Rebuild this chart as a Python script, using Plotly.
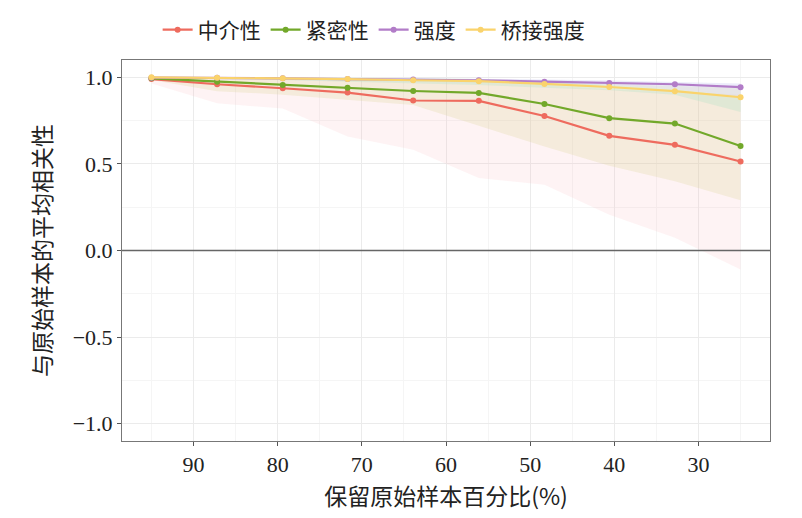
import plotly.graph_objects as go

# percent of original sample kept
keep_pct = [95, 87.2, 79.4, 71.7, 63.9, 56.1, 48.3, 40.6, 32.8, 25]

series_names = ["中介性", "紧密性", "强度", "桥接强度"]
series_colors = ["#EE6B5E", "#72A82A", "#B27CC8", "#FAD36C"]
series_fills = ["rgba(248,190,196,0.18)", "rgba(222,214,150,0.26)",
                "rgba(200,200,240,0.35)", "rgba(185,225,200,0.35)"]

betweenness = [0.99, 0.96, 0.937, 0.912, 0.866, 0.864, 0.777, 0.662, 0.61, 0.514]
betweenness_lo = [0.965, 0.85, 0.82, 0.658, 0.582, 0.418, 0.38, 0.207, 0.073, -0.109]
betweenness_hi = [1.0, 0.995, 0.99, 0.985, 0.975, 0.97, 0.955, 0.93, 0.92, 0.9]

closeness = [0.994, 0.975, 0.956, 0.94, 0.921, 0.91, 0.846, 0.764, 0.733, 0.603]
closeness_lo = [0.985, 0.92, 0.9, 0.87, 0.84, 0.72, 0.6, 0.49, 0.4, 0.29]
closeness_hi = [1.0, 0.998, 0.995, 0.99, 0.985, 0.98, 0.97, 0.96, 0.95, 0.94]

strength = [0.998, 0.998, 0.994, 0.99, 0.987, 0.983, 0.975, 0.967, 0.96, 0.943]
strength_lo = [0.995, 0.99, 0.985, 0.98, 0.975, 0.97, 0.965, 0.955, 0.93, 0.89]
strength_hi = [1.0, 1.0, 0.998, 0.996, 0.994, 0.992, 0.988, 0.982, 0.975, 0.965]

bridge = [1.0, 0.998, 0.995, 0.99, 0.983, 0.978, 0.962, 0.944, 0.92, 0.885]
bridge_lo = [0.995, 0.99, 0.985, 0.975, 0.965, 0.955, 0.94, 0.925, 0.9, 0.80]
bridge_hi = [1.0, 1.0, 1.0, 0.998, 0.995, 0.99, 0.975, 0.955, 0.93, 0.89]

means = [betweenness, closeness, strength, bridge]
lows = [betweenness_lo, closeness_lo, strength_lo, bridge_lo]
highs = [betweenness_hi, closeness_hi, strength_hi, bridge_hi]

y_ticks = [-1.0, -0.5, 0.0, 0.5, 1.0]
y_ticktext = ["\u22121.0", "\u22120.5", "0.0", "0.5", "1.0"]
x_ticks = [90, 80, 70, 60, 50, 40, 30]

font_main = "Liberation Serif, Noto Sans CJK SC, serif"
font_cjk = "Noto Sans CJK SC"

fig = go.Figure()

# ribbons first
for name, lo, hi, fc in zip(series_names, lows, highs, series_fills):
    fig.add_trace(go.Scatter(x=keep_pct, y=hi, mode="lines", line=dict(width=0),
                             showlegend=False, hoverinfo="skip"))
    fig.add_trace(go.Scatter(x=keep_pct, y=lo, mode="lines", line=dict(width=0),
                             fill="tonexty", fillcolor=fc,
                             showlegend=False, hoverinfo="skip"))

# mean lines
for name, m, c in zip(series_names, means, series_colors):
    fig.add_trace(go.Scatter(x=keep_pct, y=m, mode="lines+markers", name=name,
                             line=dict(color=c, width=2.2),
                             marker=dict(color=c, size=6)))

fig.add_hline(y=0, line=dict(color="#666666", width=1.5))

fig.update_layout(
    width=802, height=518,
    paper_bgcolor="white", plot_bgcolor="white",
    margin=dict(l=114, r=40, t=52, b=85, autoexpand=False),
    font=dict(family=font_main, size=19, color="#222222"),
    legend=dict(orientation="h", x=0.055, y=1.025, xanchor="left", yanchor="bottom",
                traceorder="normal",
                font=dict(size=21, family=font_cjk),
                itemwidth=30, tracegroupgap=0),
)
fig.update_xaxes(
    range=[98.5, 21.5], tickvals=x_ticks, ticks="outside", ticklen=4,
    tickcolor="#555555", showline=True, linecolor="#777777", linewidth=1, mirror=True,
    showgrid=True, gridcolor="#ebebeb", gridwidth=1,
    minor=dict(dtick=5, showgrid=True, gridcolor="#f5f5f5", gridwidth=1),
    zeroline=False,
    title=dict(text="保留原始样本百分比(%)", font=dict(size=23, family=font_cjk),
               standoff=12),
    tickfont=dict(size=22),
)
fig.update_yaxes(
    range=[-1.1, 1.1], tickvals=y_ticks, ticktext=y_ticktext, ticks="outside", ticklen=4,
    tickcolor="#555555", showline=True, linecolor="#777777", linewidth=1, mirror=True,
    showgrid=True, gridcolor="#ebebeb", gridwidth=1,
    minor=dict(dtick=0.25, showgrid=True, gridcolor="#f5f5f5", gridwidth=1),
    zeroline=False,
    title=dict(text="与原始样本的平均相关性", font=dict(size=23, family=font_cjk),
               standoff=14),
    tickfont=dict(size=22),
)

fig.write_html("out.html")
